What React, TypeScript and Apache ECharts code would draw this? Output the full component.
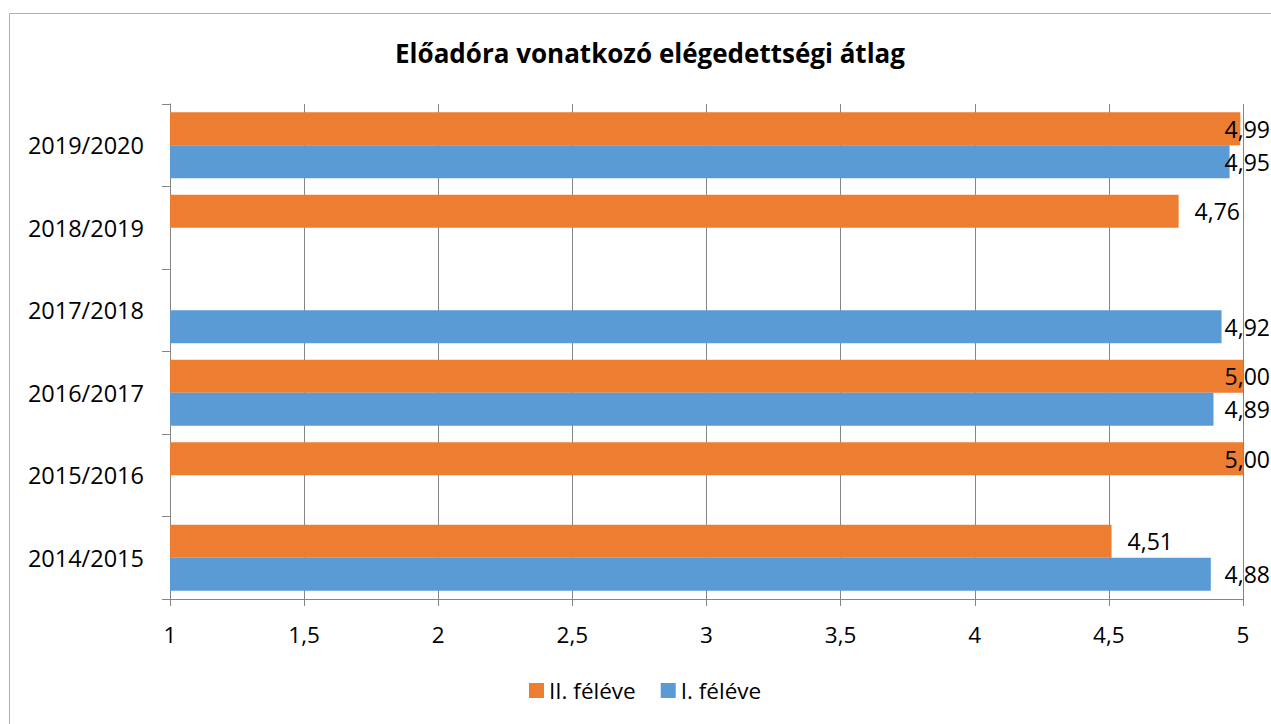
import React, { useEffect, useRef } from "react";
import * as echarts from "echarts";

const categories = ["2014/2015", "2015/2016", "2016/2017", "2017/2018", "2018/2019", "2019/2020"];
const firstSemester = [4.88, null, 4.89, 4.92, null, 4.95];
const secondSemester = [4.51, 5.0, 5.0, null, 4.76, 4.99];
const xTicks = { min: 1, max: 5, interval: 0.5 };
const titleText = "Előadóra vonatkozó elégedettségi átlag";
const seriesNames = ["II. féléve", "I. féléve"];

const FONT = "'Open Sans', sans-serif";
const fmt = (v: number) => v.toFixed(2).replace(".", ",");

export default function App() {
  const ref = useRef<HTMLDivElement>(null);
  useEffect(() => {
    if (!ref.current) return;
    const chart = echarts.init(ref.current, null, { renderer: "svg" });
    const labelCommon = {
      show: true,
      position: "right",
      distance: 16,
      color: "#000",
      fontSize: 23,
      fontFamily: FONT,
      formatter: (p: any) => fmt(p.value),
    };
    chart.setOption({
      animation: false,
      backgroundColor: "#fff",
      textStyle: { fontFamily: FONT },
      graphic: [
        {
          type: "rect",
          shape: { x: 9.5, y: 13.5, width: 1400, height: 900 },
          style: { fill: "none", stroke: "#B0B0B0", lineWidth: 1 },
          silent: true,
          z: -10,
        },
      ],
      title: {
        text: titleText,
        left: 645,
        top: 35,
        textAlign: "center",
        textStyle: { fontFamily: FONT, fontWeight: "bold", fontSize: 26, color: "#000" },
      },
      legend: {
        data: seriesNames,
        left: 524,
        top: 674,
        itemWidth: 15,
        itemHeight: 15,
        itemGap: 25,
        icon: "rect",
        textStyle: { fontFamily: FONT, fontSize: 22.5, color: "#000" },
      },
      grid: { left: 170, right: 28, top: 104, bottom: 125, containLabel: false },
      xAxis: {
        type: "value",
        min: xTicks.min,
        max: xTicks.max,
        interval: xTicks.interval,
        axisLine: { show: true, lineStyle: { color: "#868686", width: 1 } },
        axisTick: { show: true, length: 7, lineStyle: { color: "#868686" } },
        splitLine: { show: true, lineStyle: { color: "#868686", width: 1 } },
        axisLabel: {
          margin: 24,
          fontSize: 22.5,
          fontFamily: FONT,
          color: "#000",
          formatter: (v: number) => String(v).replace(".", ","),
        },
      },
      yAxis: {
        type: "category",
        data: categories,
        axisLine: { show: true, lineStyle: { color: "#868686", width: 1 } },
        axisTick: { show: true, length: 8, lineStyle: { color: "#868686" } },
        axisLabel: { margin: 26, fontSize: 23.5, fontFamily: FONT, color: "#000" },
      },
      labelLayout: (params: any) => {
        const r = params.labelRect;
        return {
          x: Math.min(r.x, 1270 - r.width),
          y: r.y + r.height / 2,
          align: "left",
          verticalAlign: "middle",
        };
      },
      series: [
        {
          name: "II. féléve",
          type: "bar",
          data: secondSemester,
          barCategoryGap: "20%",
          barGap: "0%",
          itemStyle: { color: "#ED7D31" },
          label: labelCommon,
        },
        {
          name: "I. féléve",
          type: "bar",
          data: firstSemester,
          barCategoryGap: "20%",
          barGap: "0%",
          itemStyle: { color: "#5B9BD5" },
          label: labelCommon,
        },
      ],
    });
    return () => chart.dispose();
  }, []);
  return (
    <div
      ref={ref}
      style={{ position: "fixed", left: 0, top: 0, width: 1271, height: 724 }}
    />
  );
}
